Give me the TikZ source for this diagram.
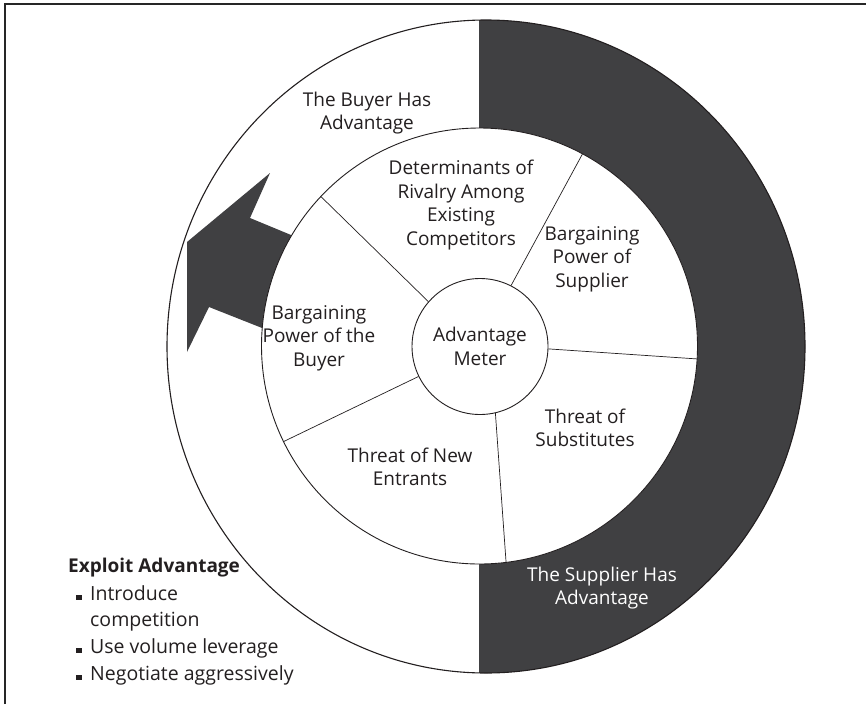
\documentclass[tikz,border=0pt]{standalone}
\usepackage{fontspec}
\setmainfont{Open Sans}
\usetikzlibrary{calc}
\definecolor{dark}{RGB}{64,64,66}
\definecolor{ink}{RGB}{35,31,32}
\begin{document}
\begin{tikzpicture}[x=1pt,y=-1pt,
  lbl/.style={align=center,inner sep=0pt,font=\fontsize{19}{23.5}\selectfont,text=ink},
  lst/.style={anchor=base west,inner sep=0pt,font=\fontsize{19.5}{23.5}\selectfont,text=ink},
  spoke/.style={line width=0.7pt,draw=ink},
  ring/.style={line width=1.1pt,draw=ink}]
\useasboundingbox (0,0) rectangle (866,704);
% frame
\draw[line width=1.4pt,draw=black!85] (5,704) -- (5,4) -- (866,4);
\coordinate (oc) at (486,346.5);
\coordinate (ic) at (479.5,346);
% outer ring
\fill[white] (oc) ellipse [x radius=319pt, y radius=326.5pt];
\begin{scope}
  \clip (479,0) rectangle (866,704);
  \fill[dark,even odd rule] (oc) ellipse [x radius=319pt, y radius=326.5pt] (ic) circle [radius=218pt];
\end{scope}
\draw[ring] (oc) ellipse [x radius=319pt, y radius=326.5pt];
% arrow
\fill[dark] (270,173) -- (250,218) -- (300,238.7) -- (300,343) -- (209,307) -- (187,352) -- (187,242) -- cycle;
% inner circle
\draw[ring,line width=0.9pt,fill=white] (ic) circle [radius=218pt];
% centre
\node[circle,draw=ink,line width=0.9pt,fill=white,minimum size=136pt,lbl] (m) at (480,346.5) {Advantage\\Meter};
% spokes
\coordinate (s1) at ($(ic)+(61.8:218pt)$);
\coordinate (s2) at ($(ic)+(-3.4:218pt)$);
\coordinate (s3) at ($(ic)+(-83:218pt)$);
\coordinate (s4) at ($(ic)+(206:218pt)$);
\coordinate (s5) at ($(ic)+(136.7:218pt)$);
\draw[spoke] (m.63.3) -- (s1);
\draw[spoke] (m.-2) -- (s2);
\draw[spoke] (m.-77) -- (s3);
\draw[spoke] (m.206.2) -- (s4);
\draw[spoke] (m.139.4) -- (s5);
% labels
\node[lbl] (buyer) at (367,113) {The Buyer Has\\Advantage};
\node[lbl] (rival) at (461,205) {Determinants of\\Rivalry Among\\Existing\\Competitors};
\node[lbl] (bps) at (592,259) {Bargaining\\Power of\\Supplier};
\node[lbl] (bpb) at (319,338) {Bargaining\\Power of the\\Buyer};
\node[lbl] (sub) at (585,428) {Threat of\\Substitutes};
\node[lbl] (new) at (410,467) {Threat of New\\Entrants};
\node[lbl,text=white] (supp) at (602,588) {The Supplier Has\\Advantage};
% exploit list
\node[lst,font=\fontsize{19}{23.5}\selectfont\bfseries] (ex) at (68,572) {Exploit Advantage};
\node[lst] (b1) at (76,600) {\rule{5.5pt}{5.5pt}\hspace{8.5pt}Introduce};
\node[lst] (b1b) at (90,626) {competition};
\node[lst] (b2) at (76,653) {\rule{5.5pt}{5.5pt}\hspace{8.5pt}Use volume leverage};
\node[lst] (b3) at (76,680) {\rule{5.5pt}{5.5pt}\hspace{8.5pt}Negotiate aggressively};
\end{tikzpicture}
\end{document}
